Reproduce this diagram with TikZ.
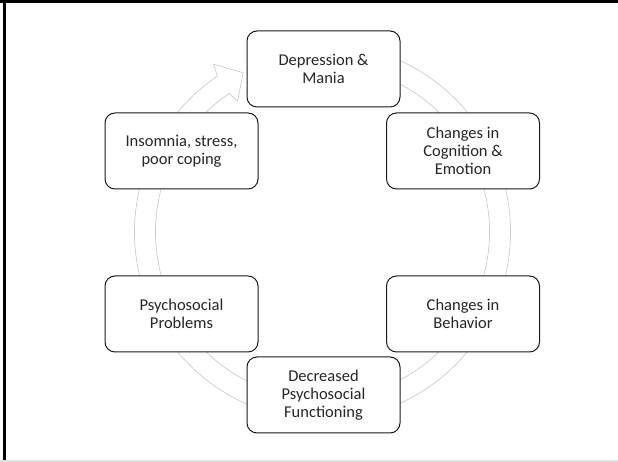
\documentclass[tikz,border=0pt]{standalone}
\usepackage{fontspec}
\setmainfont{Carlito}
\begin{document}
\begin{tikzpicture}[x=1pt,y=1pt,
  stage/.style={draw=black!90, line width=1pt, fill=white, rounded corners=10pt,
    minimum width=153pt, minimum height=76pt, inner sep=2pt, align=center,
    text=black!85, font=\fontsize{16.5}{18}\selectfont},
  band/.style={draw=black!22, line width=0.6pt, fill=white}]
\useasboundingbox (0,0) rectangle (618,462);
% slide frame
\fill[black] (0,459.3) rectangle (618,462);
\fill[black] (2.7,0) rectangle (6,462);
\fill[black!12] (0,0) rectangle (618,1.6);
% cycle centre
\coordinate (C) at (322.5,230);
% circular arrow band running clockwise, head at upper left
\draw[band] ([shift={(C)}]85:188) arc[start angle=85, end angle=-236, radius=188]
  -- ([shift={(C)}]123:200) -- ([shift={(C)}]116.5:178) -- ([shift={(C)}]123:156)
  -- ([shift={(C)}]124:167) arc[start angle=-236, end angle=85, radius=167] -- cycle;
% stages of the cycle
\node[stage] (dep) at (323.5,393) {Depression \&\\Mania};
\node[stage] (cog) at (463,311) {Changes in\\Cognition \&\\Emotion};
\node[stage] (beh) at (463,148) {Changes in\\Behavior};
\node[stage] (dec) at (323.5,67) {Decreased\\Psychosocial\\Functioning};
\node[stage] (psy) at (181.5,148) {Psychosocial\\Problems};
\node[stage] (ins) at (181.5,311) {Insomnia, stress,\\poor coping};
\end{tikzpicture}
\end{document}
